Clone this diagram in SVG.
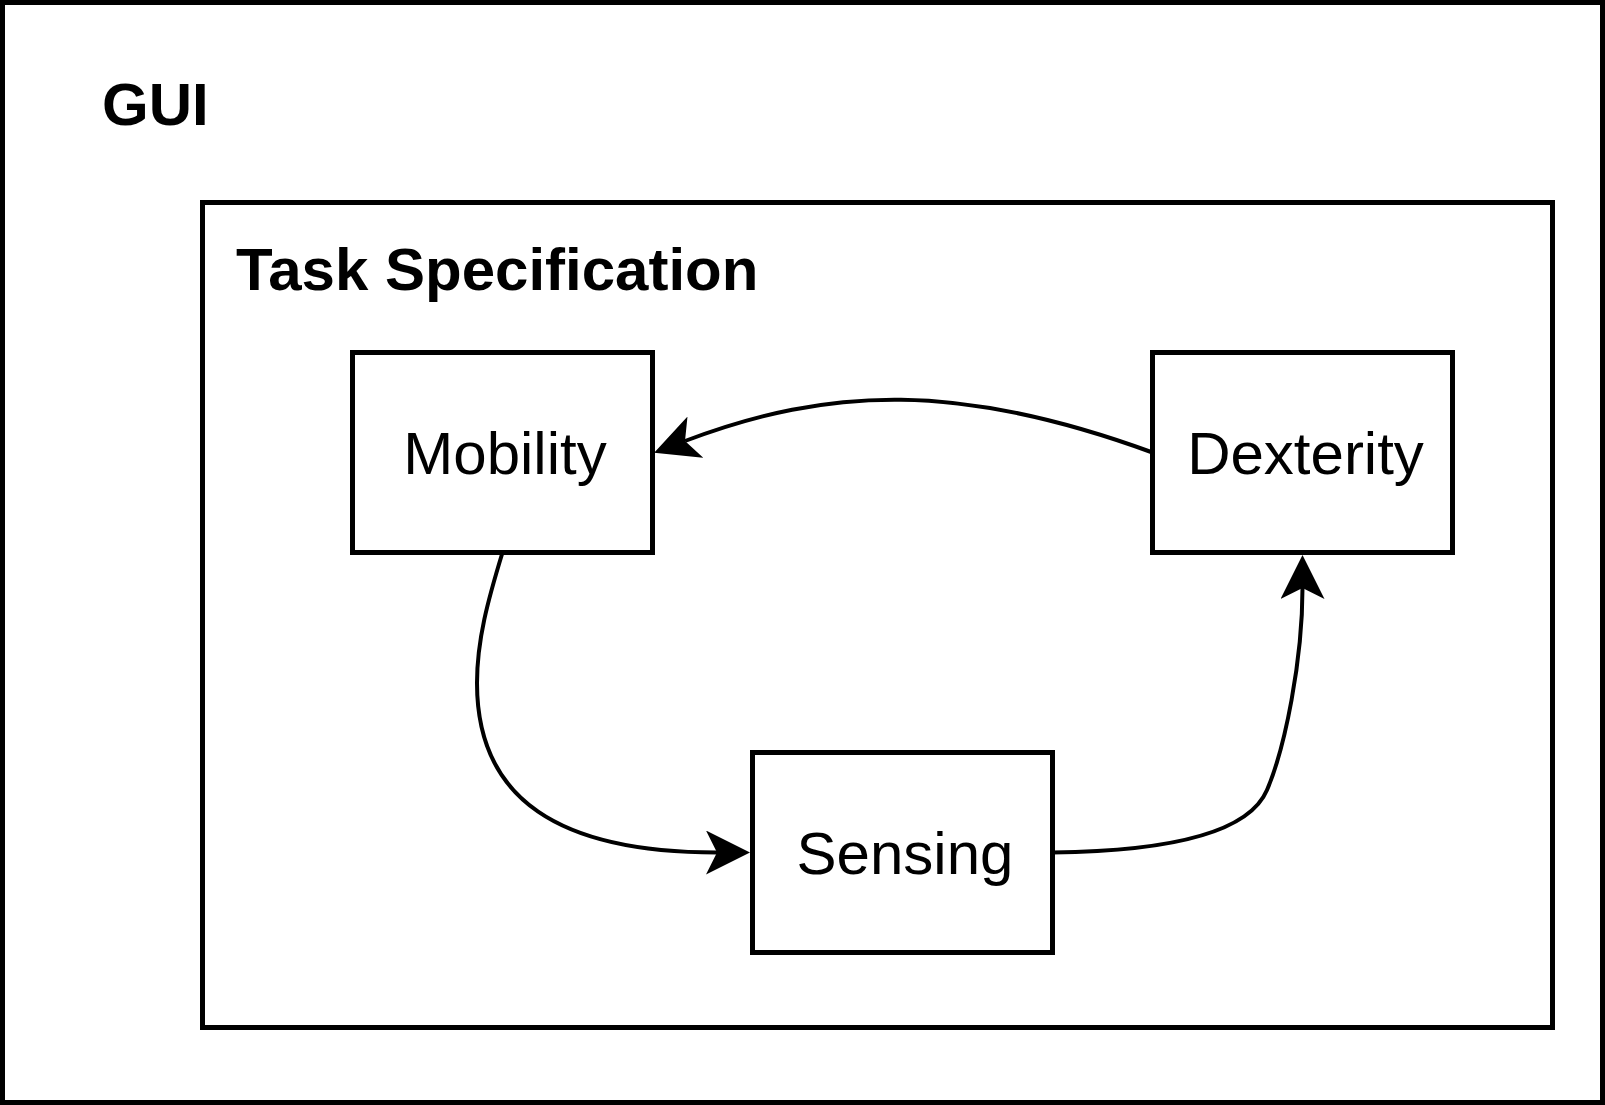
<svg xmlns="http://www.w3.org/2000/svg" width="1605" height="1105" viewBox="0 0 1605 1105">
  <style>
    .box { fill: #ffffff; stroke: #000000; stroke-width: 5; }
    .title { font-family: "Liberation Sans", Arial, sans-serif; font-weight: bold; font-size: 60px; fill: #000000; }
    .label { font-family: "Liberation Sans", Arial, sans-serif; font-size: 60px; fill: #000000; text-anchor: middle; }
    .edge { fill: none; stroke: #000000; stroke-width: 4; }
  </style>
  <defs>
    <marker id="arrow" markerUnits="userSpaceOnUse" markerWidth="44" markerHeight="44" viewBox="0 0 44 44" refX="11" refY="22" orient="auto">
      <path d="M0,0 L44,22 L0,44 L11,22 Z" fill="#000000"/>
    </marker>
  </defs>
  <rect x="0" y="0" width="1605" height="1105" fill="#ffffff"/>

  <g id="gui">
    <rect class="box" x="2.5" y="2.5" width="1600" height="1100"/>
    <text class="title" x="102" y="125">GUI</text>
  </g>

  <g id="task-specification">
    <rect class="box" x="202.5" y="202.5" width="1350" height="825"/>
    <text class="title" x="236" y="290">Task Specification</text>
  </g>

  <g id="mobility">
    <rect class="box" x="352.5" y="352.5" width="300" height="200"/>
    <text class="label" x="505" y="474">Mobility</text>
  </g>

  <g id="dexterity">
    <rect class="box" x="1152.5" y="352.5" width="300" height="200"/>
    <text class="label" x="1305.5" y="474">Dexterity</text>
  </g>

  <g id="sensing">
    <rect class="box" x="752.5" y="752.5" width="300" height="200"/>
    <text class="label" x="905" y="874">Sensing</text>
  </g>

  <g id="connectors">
    <path class="edge" marker-end="url(#arrow)" d="M1152.5,452.5 C960,382 830,386 685,441"/>
    <path class="edge" marker-end="url(#arrow)" d="M502.5,552.5 C488,600 477,640 477,683 C477,800 560,852.5 717,852.5"/>
    <path class="edge" marker-end="url(#arrow)" d="M1052.5,852.5 C1180,851 1250,830 1267,790 C1285,748 1302.5,660 1302.5,588"/>
  </g>
</svg>
